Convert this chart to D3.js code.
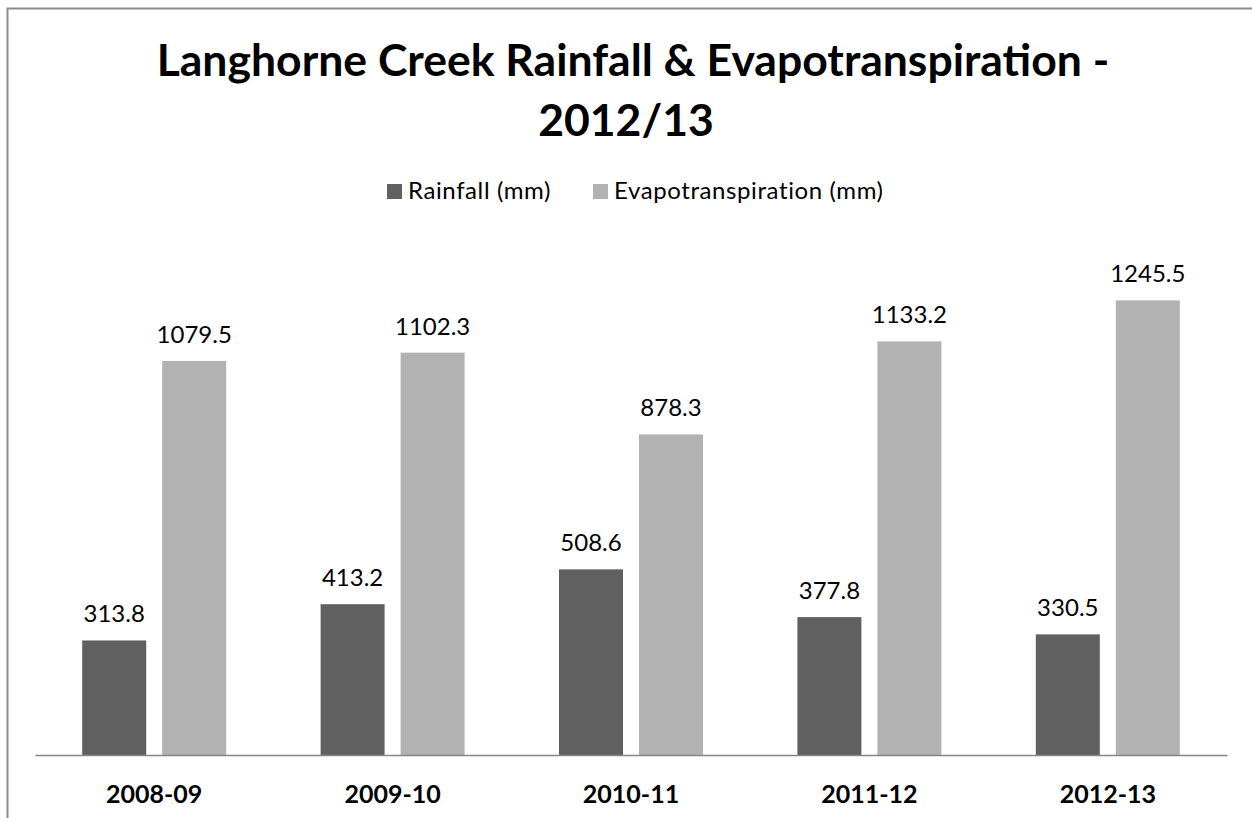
<!DOCTYPE html>
<html>
<head>
<meta charset="utf-8">
<script src="https://cdn.jsdelivr.net/npm/d3@7"></script>
<style>
  body { margin: 0; background: #fff; }
  svg { display: block; font-family: Lato, "Open Sans", sans-serif; }
</style>
</head>
<body>
<div id="chart"></div>
<script>
var categories = ["2008-09", "2009-10", "2010-11", "2011-12", "2012-13"];
var seriesNames = ["Rainfall (mm)", "Evapotranspiration (mm)"];
var rainfall = [313.8, 413.2, 508.6, 377.8, 330.5];
var evapo = [1079.5, 1102.3, 878.3, 1133.2, 1245.5];

var width = 1252;
var height = 818;
var colors = ["#606060", "#b2b2b2"];

var svg = d3.select("#chart")
    .append("svg")
    .attr("width", width)
    .attr("height", height);

// chart frame (cut off on the right and bottom like the original)
svg.append("rect")
    .attr("x", 7.5)
    .attr("y", 8.5)
    .attr("width", 1300)
    .attr("height", 900)
    .attr("fill", "#fff")
    .attr("stroke", "#8c8c8c")
    .attr("stroke-width", 2);

// title
var title = svg.append("text")
    .attr("text-anchor", "middle")
    .attr("font-weight", "bold")
    .attr("font-size", 44.5)
    .attr("fill", "#000");
title.append("tspan").attr("x", 633).attr("y", 76).text("Langhorne Creek Rainfall & Evapotranspiration -");
title.append("tspan").attr("x", 626).attr("y", 136).text("2012/13");

// legend
var legendItems = [
    {name: seriesNames[0], color: colors[0], x: 387},
    {name: seriesNames[1], color: colors[1], x: 593}
];
var legend = svg.selectAll(".legend")
    .data(legendItems)
    .enter()
    .append("g")
    .attr("transform", function (d) { return "translate(" + d.x + ",184)"; });
legend.append("rect")
    .attr("width", 15)
    .attr("height", 15)
    .attr("fill", function (d) { return d.color; });
legend.append("text")
    .attr("x", 21)
    .attr("y", 15)
    .attr("font-size", 24)
    .attr("letter-spacing", 0.6)
    .attr("fill", "#000")
    .text(function (d) { return d.name; });

var x0 = d3.scaleBand()
    .domain(categories)
    .range([35, 1227])
    .paddingInner(0)
    .paddingOuter(0);

var x1 = d3.scaleBand()
    .domain([0, 1])
    .range([x0.bandwidth() / 2 - 72, x0.bandwidth() / 2 + 72])
    .paddingInner(0.2);

var y = d3.scaleLinear()
    .domain([0, 1400])
    .range([755, 244]);

var groups = svg.selectAll(".grp")
    .data(categories)
    .enter()
    .append("g")
    .attr("transform", function (d) { return "translate(" + x0(d) + ",0)"; });

groups.selectAll("rect")
    .data(function (d, i) { return [rainfall[i], evapo[i]]; })
    .enter()
    .append("rect")
    .attr("x", function (d, j) { return x1(j); })
    .attr("width", x1.bandwidth())
    .attr("y", function (d) { return y(d); })
    .attr("height", function (d) { return y(0) - y(d); })
    .attr("fill", function (d, j) { return colors[j]; });

groups.selectAll(".val")
    .data(function (d, i) { return [rainfall[i], evapo[i]]; })
    .enter()
    .append("text")
    .attr("class", "val")
    .attr("x", function (d, j) { return x1(j) + x1.bandwidth() / 2; })
    .attr("y", function (d) { return y(d) - 18; })
    .attr("text-anchor", "middle")
    .attr("font-size", 24)
    .attr("fill", "#000")
    .text(function (d) { return d.toFixed(1); });

// category axis
var xAxis = svg.append("g")
    .attr("transform", "translate(0,755)")
    .call(d3.axisBottom(x0).tickSize(0).tickPadding(0));
xAxis.select(".domain").attr("stroke", "#868686").attr("stroke-width", 1.5);
xAxis.selectAll("text")
    .attr("dy", 0)
    .attr("y", 48)
    .attr("font-family", "Lato, 'Open Sans', sans-serif")
    .attr("font-size", 25)
    .attr("font-weight", "bold")
    .attr("fill", "#000");
</script>
</body>
</html>
